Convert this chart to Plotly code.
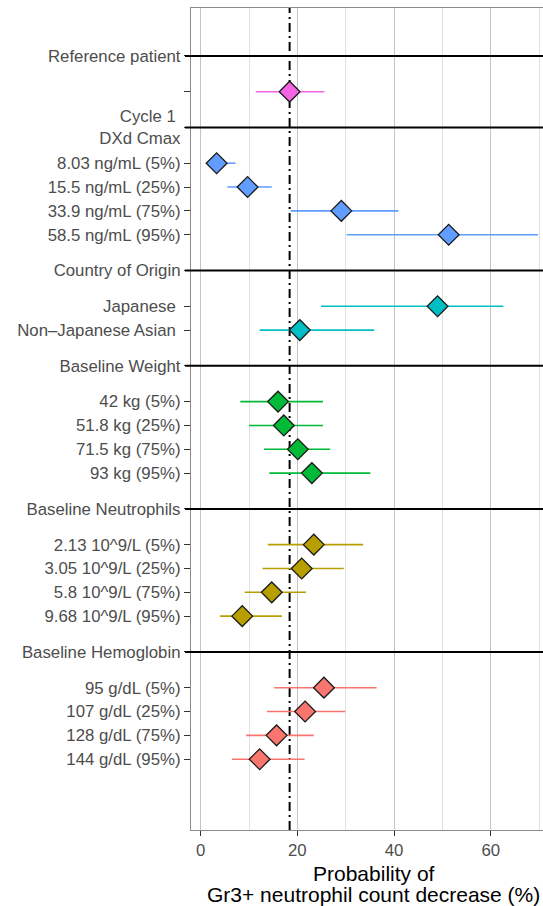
import plotly.graph_objects as go

# ---------------- data ----------------
group_names = ["Reference patient", "Cycle 1\u00a0<br>DXd Cmax", "Country of Origin",
               "Baseline Weight", "Baseline Neutrophils", "Baseline Hemoglobin"]
group_colors = ["#F564E3", "#619CFF", "#00BFC4", "#00BA38", "#B79F00", "#F8766D"]

ref_labels = [""]
ref_med = [18.4]
ref_lo = [11.4]
ref_hi = [25.6]

cmax_labels = ["8.03 ng/mL (5%)", "15.5 ng/mL (25%)", "33.9 ng/mL (75%)", "58.5 ng/mL (95%)"]
cmax_med = [3.3, 9.7, 29.1, 51.3]
cmax_lo = [1.3, 5.5, 18.6, 30.2]
cmax_hi = [7.2, 14.7, 40.9, 69.8]

country_labels = ["Japanese\u00a0", "Non\u2013Japanese Asian\u00a0"]
country_med = [49.0, 20.5]
country_lo = [24.9, 12.2]
country_hi = [62.6, 35.9]

weight_labels = ["42 kg (5%)", "51.8 kg (25%)", "71.5 kg (75%)", "93 kg (95%)"]
weight_med = [16.0, 17.2, 20.1, 23.0]
weight_lo = [8.2, 10.0, 13.1, 14.2]
weight_hi = [25.3, 25.3, 26.8, 35.1]

neut_labels = ["2.13 10^9/L (5%)", "3.05 10^9/L (25%)", "5.8 10^9/L (75%)", "9.68 10^9/L (95%)"]
neut_med = [23.4, 20.9, 14.7, 8.6]
neut_lo = [13.9, 12.8, 9.1, 4.0]
neut_hi = [33.6, 29.6, 21.8, 16.8]

hemo_labels = ["95 g/dL (5%)", "107 g/dL (25%)", "128 g/dL (75%)", "144 g/dL (95%)"]
hemo_med = [25.5, 21.6, 15.7, 12.2]
hemo_lo = [15.2, 13.7, 9.4, 6.5]
hemo_hi = [36.4, 29.9, 23.4, 21.5]

reference_value = 18.4
x_ticks = [0, 20, 40, 60]
x_title_lines = ["Probability of", "Gr3+ neutrophil count decrease (%)"]

groups = [
    (ref_labels, ref_med, ref_lo, ref_hi),
    (cmax_labels, cmax_med, cmax_lo, cmax_hi),
    (country_labels, country_med, country_lo, country_hi),
    (weight_labels, weight_med, weight_lo, weight_hi),
    (neut_labels, neut_med, neut_lo, neut_hi),
    (hemo_labels, hemo_med, hemo_lo, hemo_hi),
]

# ---------------- layout of rows ----------------
FONT = "Liberation Sans, Arial, Helvetica, sans-serif"
TXT = "#4d4d4d"

fig = go.Figure()
tickvals, ticktext, header_pos = [], [], []
pos = 0.0
for gname, color, (labels, med, lo, hi) in zip(group_names, group_colors, groups):
    header_pos.append(pos)
    tickvals.append(pos)
    ticktext.append(gname)
    pos += 1.5
    ys = []
    for lab in labels:
        ys.append(pos)
        tickvals.append(pos)
        ticktext.append(lab)
        pos += 1.0
    pos += 0.5
    fig.add_trace(go.Scatter(
        x=med, y=ys, mode="markers",
        marker=dict(symbol="diamond", size=16, color=color,
                    line=dict(color="#1a1a1a", width=1.3)),
        error_x=dict(type="data", symmetric=False,
                     array=[h - m for h, m in zip(hi, med)],
                     arrayminus=[m - l for m, l in zip(med, lo)],
                     color=color, thickness=1.6, width=0),
        showlegend=False, cliponaxis=False, hoverinfo="skip"))

# header separators
for hp in header_pos:
    fig.add_shape(type="line", xref="paper", yref="y", x0=-0.017, x1=1, y0=hp, y1=hp,
                  line=dict(color="black", width=2), layer="above")

# reference dash-dot line
fig.add_shape(type="line", xref="x", yref="paper", x0=reference_value, x1=reference_value,
              y0=0, y1=1, line=dict(color="black", width=2, dash="9px,4px,2px,4px"),
              layer="between")

for i, line in enumerate(x_title_lines):
    fig.add_annotation(text=line, xref="paper", yref="paper", x=0.519, y=-0.0525 - i * 0.0265,
                       xanchor="center", yanchor="middle", showarrow=False,
                       font=dict(family=FONT, size=21, color="black"))

fig.update_layout(
    width=543, height=906,
    margin=dict(l=191, r=0, t=8, b=76),
    paper_bgcolor="white", plot_bgcolor="white",
    font=dict(family=FONT, size=16.8, color=TXT),
    xaxis=dict(range=[-2.0, 70.81], tickvals=x_ticks, ticks="outside", ticklen=5,
               tickcolor="#333333", tickwidth=1.2,
               tickfont=dict(family=FONT, size=16.8, color=TXT),
               showgrid=True, gridcolor="#c4c4c4", gridwidth=1.4,
               minor=dict(dtick=10, tick0=0, showgrid=True, gridcolor="#e0e0e0", gridwidth=1),
               showline=True, linecolor="#8c8c8c", linewidth=1.3, mirror=True,
               zeroline=False),
    yaxis=dict(range=[32.47, -2.01], tickvals=tickvals, ticktext=ticktext,
               ticks="outside", ticklen=6, tickcolor="#333333", tickwidth=1.2,
               tickfont=dict(family=FONT, size=16.8, color=TXT),
               showgrid=False, zeroline=False,
               showline=True, linecolor="#8c8c8c", linewidth=1.3),
)

fig.write_html("out.html")
